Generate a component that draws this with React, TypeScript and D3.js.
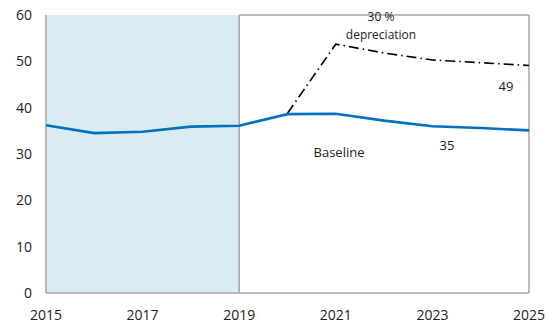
import React from "react";
import * as d3 from "d3";

const years = [2015, 2016, 2017, 2018, 2019, 2020, 2021, 2022, 2023, 2024, 2025];
const baseline = [36.2, 34.5, 34.8, 35.9, 36.1, 38.6, 38.7, 37.2, 36.0, 35.6, 35.1];
const depYears = [2020, 2021, 2022, 2023, 2024, 2025];
const depreciation = [38.8, 53.7, 51.8, 50.3, 49.7, 49.1];
const yTicks = [0, 10, 20, 30, 40, 50, 60];
const xTicks = [2015, 2017, 2019, 2021, 2023, 2025];
const historyEnd = 2019;

const W = 548;
const H = 324;
const M = { left: 46, right: 19, top: 15, bottom: 31 };

export default function App() {
  const x = d3.scaleLinear().domain([2015, 2025]).range([M.left, W - M.right]);
  const y = d3.scaleLinear().domain([0, 60]).range([H - M.bottom, M.top]);
  const line = d3
    .line<[number, number]>()
    .x((d) => x(d[0]))
    .y((d) => y(d[1]));
  const basePts = years.map((yr, i) => [yr, baseline[i]] as [number, number]);
  const depPts = depYears.map((yr, i) => [yr, depreciation[i]] as [number, number]);
  const font = "'Open Sans', 'Noto Sans', sans-serif";
  const x0 = x(2015), x1 = x(2025), xh = x(historyEnd), yb = y(0), yt = y(60);
  const frame = "#a6a6a6";
  return (
    <svg
      width={W}
      height={H}
      style={{ position: "absolute", left: 0, top: 0 }}
      fontFamily={font}
    >
      <rect x={0} y={0} width={W} height={H} fill="#fff" />
      <rect x={x0} y={yt} width={xh - x0} height={yb - yt} fill="#daecf3" />
      <g stroke={frame} strokeWidth={1.5} fill="none">
        <line x1={x0} y1={yt} x2={x0} y2={yb} />
        <line x1={x0} y1={yb} x2={x1} y2={yb} />
        <line x1={x1} y1={yt} x2={x1} y2={yb} />
        <line x1={xh} y1={yt} x2={x1} y2={yt} />
        <line x1={xh} y1={yt} x2={xh} y2={yb} />
      </g>
      <path
        d={line(depPts) || ""}
        fill="none"
        stroke="#000"
        strokeWidth={1.6}
        strokeDasharray="10 4 1.5 4"
      />
      <path d={line(basePts) || ""} fill="none" stroke="#0070c0" strokeWidth={2.6} />
      {yTicks.map((t) => (
        <text key={t} x={32} y={y(t) + 5} textAnchor="end" fontSize={14} fill="#222">
          {t}
        </text>
      ))}
      {xTicks.map((t) => (
        <text key={t} x={x(t)} y={320} textAnchor="middle" fontSize={14} fill="#222">
          {t}
        </text>
      ))}
      <text x={381} y={21} textAnchor="middle" fontSize={12} fill="#222">30 %</text>
      <text x={381} y={39} textAnchor="middle" fontSize={12} fill="#222">depreciation</text>
      <text x={506} y={91} textAnchor="middle" fontSize={13} fill="#222">49</text>
      <text x={339} y={157} textAnchor="middle" fontSize={13} fill="#222">Baseline</text>
      <text x={447} y={150} textAnchor="middle" fontSize={13} fill="#222">35</text>
    </svg>
  );
}
